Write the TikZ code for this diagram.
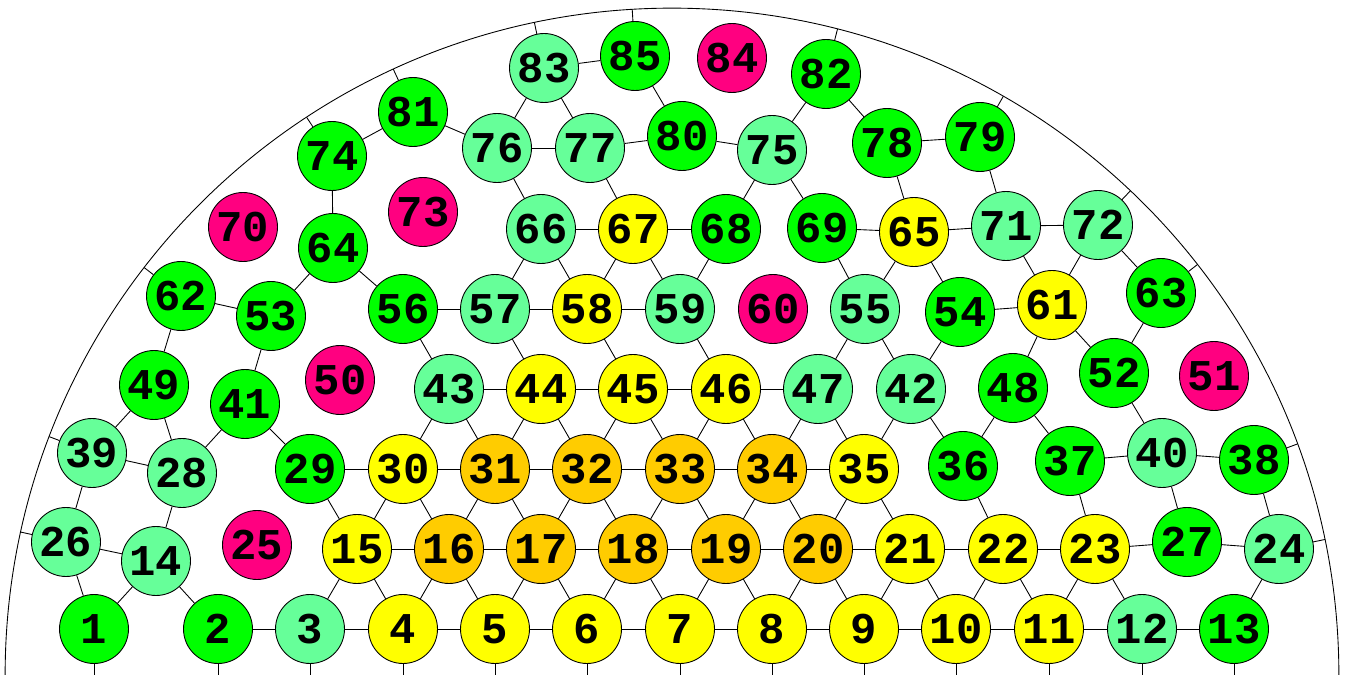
\documentclass[tikz,border=0pt]{standalone}
\usepackage{fontspec}
\setmonofont{Liberation Mono}
\usepackage{tikz}
\usetikzlibrary{calc}

\definecolor{mintgreen}{RGB}{102,255,153}
\definecolor{fullgreen}{RGB}{0,255,0}
\definecolor{hotpink}{RGB}{255,0,128}
\definecolor{pureyellow}{RGB}{255,255,0}
\definecolor{deeporange}{RGB}{255,204,0}

\begin{document}
\begin{tikzpicture}[x=0.02cm, y=-0.02cm, line width=0.5pt, core/.style = {circle, draw, minimum size=1.38cm, inner sep=0pt, font=\fontsize{25}{25}\selectfont\ttfamily\bfseries}, mint/.style={core, fill=mintgreen}, grn/.style={core, fill=fullgreen}, ylw/.style={core, fill=pureyellow}, org/.style={core, fill=deeporange}, pnk/.style={core, fill=hotpink}]

\useasboundingbox (0,0) rectangle (1345,675);
\coordinate (C) at (672,675);
\draw (C) ++(180:13.34cm) arc[start angle=180, end angle=0, radius=13.34cm];

% bottom row
\node[grn] (n1) at (94,629) {1};
\node[grn] (n2) at (218,629) {2};
\node[mint] (n3) at (310,629) {3};
\node[ylw] (n4) at (403,629) {4};
\node[ylw] (n5) at (495,629) {5};
\node[ylw] (n6) at (587,629) {6};
\node[ylw] (n7) at (680,629) {7};
\node[ylw] (n8) at (772,629) {8};
\node[ylw] (n9) at (864,629) {9};
\node[ylw] (n10) at (956,629) {10};
\node[ylw] (n11) at (1049,629) {11};
\node[mint] (n12) at (1142,629) {12};
\node[grn] (n13) at (1234,629) {13};

% second row
\node[mint] (n14) at (156,561) {14};
\node[ylw] (n15) at (357,549) {15};
\node[org] (n16) at (449,549) {16};
\node[org] (n17) at (541,549) {17};
\node[org] (n18) at (633,549) {18};
\node[org] (n19) at (726,549) {19};
\node[org] (n20) at (818,549) {20};
\node[ylw] (n21) at (910,549) {21};
\node[ylw] (n22) at (1003,549) {22};
\node[ylw] (n23) at (1095,549) {23};
\node[mint] (n24) at (1279,549) {24};
\node[pnk] (n25) at (257,545) {25};
\node[mint] (n26) at (66,542) {26};
\node[grn] (n27) at (1187,542) {27};

% third row
\node[mint] (n28) at (182,473) {28};
\node[grn] (n29) at (310,469) {29};
\node[ylw] (n30) at (403,469) {30};
\node[org] (n31) at (495,469) {31};
\node[org] (n32) at (587,469) {32};
\node[org] (n33) at (680,469) {33};
\node[org] (n34) at (772,469) {34};
\node[ylw] (n35) at (864,469) {35};
\node[grn] (n36) at (963,466) {36};
\node[grn] (n37) at (1070,461) {37};
\node[grn] (n38) at (1254,460) {38};
\node[mint] (n39) at (92,453) {39};
\node[mint] (n40) at (1162,453) {40};

% fourth row
\node[grn] (n41) at (245,404) {41};
\node[mint] (n42) at (911,389) {42};
\node[mint] (n43) at (449,389) {43};
\node[ylw] (n44) at (541,389) {44};
\node[ylw] (n45) at (633,389) {45};
\node[ylw] (n46) at (726,389) {46};
\node[mint] (n47) at (818,389) {47};
\node[grn] (n48) at (1013,388) {48};
\node[grn] (n49) at (154,385) {49};
\node[pnk] (n50) at (340,380) {50};
\node[pnk] (n51) at (1214,376) {51};
\node[grn] (n52) at (1114,373) {52};

% fifth row
\node[grn] (n53) at (271,316) {53};
\node[grn] (n54) at (960,312) {54};
\node[mint] (n55) at (865,309) {55};
\node[grn] (n56) at (403,309) {56};
\node[mint] (n57) at (495,309) {57};
\node[ylw] (n58) at (587,309) {58};
\node[mint] (n59) at (680,309) {59};
\node[pnk] (n60) at (773,309) {60};
\node[ylw] (n61) at (1052,305) {61};
\node[grn] (n62) at (181,296) {62};
\node[grn] (n63) at (1161,293) {63};

% sixth row
\node[grn] (n64) at (333,248) {64};
\node[ylw] (n65) at (914,232) {65};
\node[mint] (n66) at (541,229) {66};
\node[ylw] (n67) at (633,229) {67};
\node[grn] (n68) at (726,229) {68};
\node[grn] (n69) at (822,228) {69};
\node[pnk] (n70) at (243,227) {70};
\node[mint] (n71) at (1006,226) {71};
\node[mint] (n72) at (1098,225) {72};
\node[pnk] (n73) at (423,212) {73};

% top rows
\node[grn] (n74) at (332,156) {74};
\node[mint] (n75) at (772,150) {75};
\node[mint] (n76) at (497,148) {76};
\node[mint] (n77) at (590,148) {77};
\node[grn] (n78) at (887,143) {78};
\node[grn] (n79) at (980,137) {79};
\node[grn] (n80) at (682,136) {80};
\node[grn] (n81) at (413,112) {81};
\node[grn] (n82) at (826,74) {82};
\node[mint] (n83) at (544,68) {83};
\node[pnk] (n84) at (732,58) {84};
\node[grn] (n85) at (635,56) {85};

\path
    (n2) edge (n3) (n3) edge (n4) (n4) edge (n5) (n5) edge (n6) (n6) edge (n7)
    (n7) edge (n8) (n8) edge (n9) (n9) edge (n10) (n10) edge (n11) (n11) edge (n12)
    (n12) edge (n13)
    (n1) edge (n14) (n1) edge (n26) (n2) edge (n14)
    (n3) edge (n15) (n4) edge (n15) (n4) edge (n16) (n5) edge (n16) (n5) edge (n17)
    (n6) edge (n17) (n6) edge (n18) (n7) edge (n18) (n7) edge (n19) (n8) edge (n19)
    (n8) edge (n20) (n9) edge (n20) (n9) edge (n21) (n10) edge (n21) (n10) edge (n22)
    (n11) edge (n22) (n11) edge (n23) (n12) edge (n23) (n13) edge (n24)
    (n26) edge (n14) (n15) edge (n16) (n16) edge (n17) (n17) edge (n18) (n18) edge (n19)
    (n19) edge (n20) (n20) edge (n21) (n21) edge (n22) (n22) edge (n23) (n23) edge (n27)
    (n27) edge (n24)
    (n26) edge (n39) (n14) edge (n28) (n15) edge (n29) (n15) edge (n30) (n16) edge (n30)
    (n16) edge (n31) (n17) edge (n31) (n17) edge (n32) (n18) edge (n32) (n18) edge (n33)
    (n19) edge (n33) (n19) edge (n34) (n20) edge (n34) (n20) edge (n35) (n21) edge (n35)
    (n22) edge (n36) (n23) edge (n37) (n27) edge (n40) (n24) edge (n38)
    (n39) edge (n28) (n29) edge (n30) (n30) edge (n31) (n31) edge (n32) (n32) edge (n33)
    (n33) edge (n34) (n34) edge (n35) (n37) edge (n40) (n40) edge (n38)
    (n39) edge (n49) (n28) edge (n49) (n28) edge (n41) (n29) edge (n41) (n30) edge (n43)
    (n31) edge (n43) (n31) edge (n44) (n32) edge (n44) (n32) edge (n45) (n33) edge (n45)
    (n33) edge (n46) (n34) edge (n46) (n34) edge (n47) (n35) edge (n47) (n35) edge (n42)
    (n36) edge (n42) (n36) edge (n48) (n37) edge (n48) (n40) edge (n52)
    (n43) edge (n44) (n44) edge (n45) (n45) edge (n46) (n46) edge (n47)
    (n49) edge (n62) (n41) edge (n53) (n43) edge (n56) (n44) edge (n57) (n45) edge (n58)
    (n46) edge (n59) (n47) edge (n55) (n42) edge (n55) (n42) edge (n54) (n48) edge (n61)
    (n52) edge (n61) (n52) edge (n63)
    (n62) edge (n53) (n53) edge (n64) (n56) edge (n64) (n56) edge (n57) (n57) edge (n58)
    (n58) edge (n59) (n55) edge (n65) (n54) edge (n65) (n54) edge (n61) (n59) edge (n68)
    (n55) edge (n69) (n57) edge (n66) (n58) edge (n66) (n58) edge (n67) (n59) edge (n67)
    (n61) edge (n71) (n61) edge (n72) (n72) edge (n63)
    (n64) edge (n74) (n66) edge (n67) (n67) edge (n68) (n69) edge (n65) (n65) edge (n71)
    (n71) edge (n72) (n66) edge (n76) (n67) edge (n77) (n68) edge (n75) (n69) edge (n75)
    (n65) edge (n78) (n71) edge (n79)
    (n74) edge (n81) (n81) edge (n76) (n76) edge (n77) (n77) edge (n80) (n80) edge (n75)
    (n75) edge (n82) (n78) edge (n79) (n78) edge (n82) (n76) edge (n83) (n77) edge (n83)
    (n83) edge (n85) (n85) edge (n80);

% ties to the rim
\foreach \n in {26,39,62,74,81,83,85,82,79,72,63,38,24} {
    \coordinate (t\n) at ($(C)!13.34cm!(n\n)$);
    \draw (n\n) -- (t\n);
}
% ties to the base
\foreach \n in {1,...,13} {
    \coordinate (b\n) at (n\n |- C);
    \draw (n\n) -- (b\n);
}
\end{tikzpicture}
\end{document}
